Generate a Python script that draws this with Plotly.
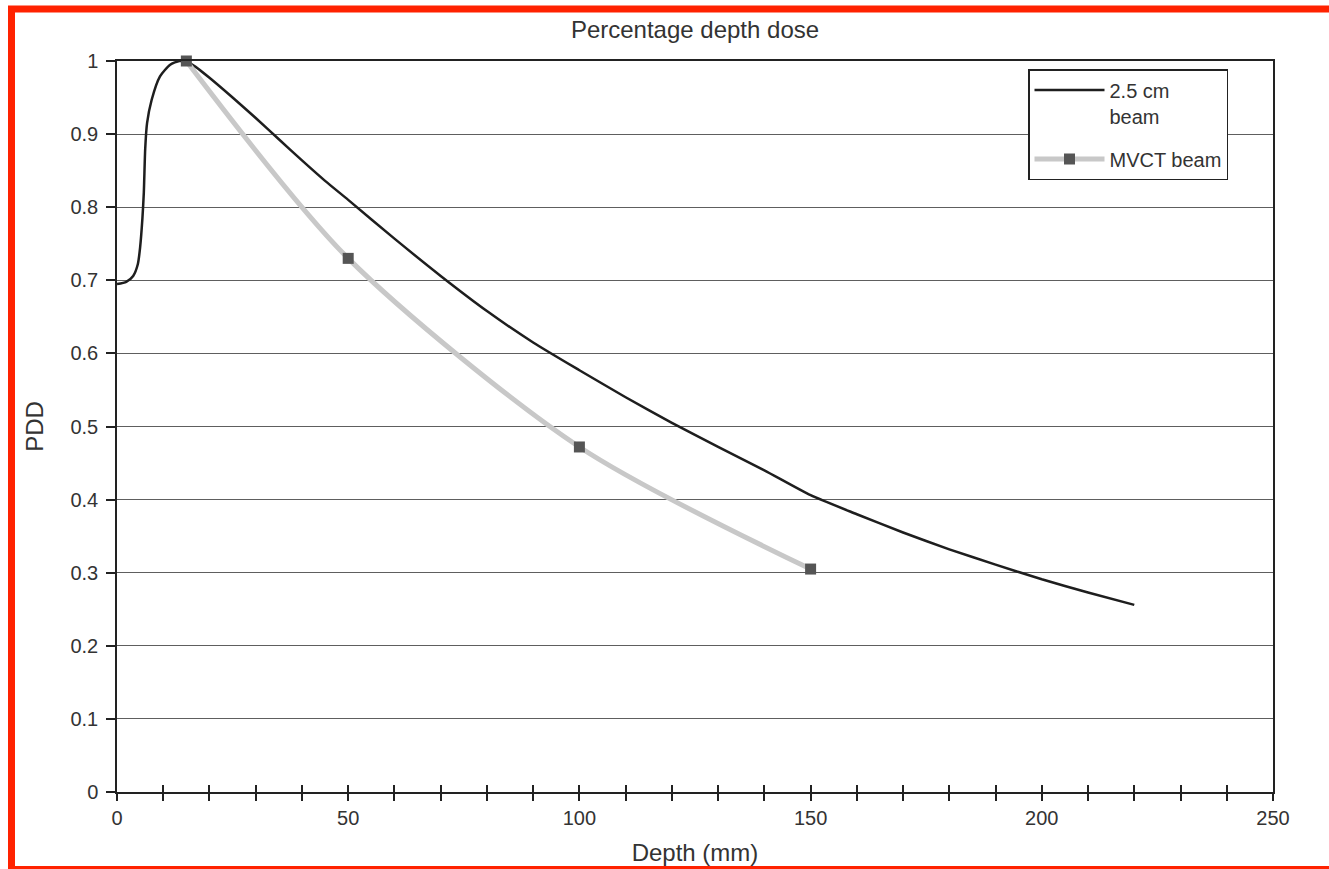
import plotly.graph_objects as go

# 2.5 cm beam (black curve)
depth_25 = [0, 2, 3.5, 4.5, 5, 5.5, 5.8, 6.1, 6.5, 7.5, 9.3, 11.5, 13.5, 15, 17, 20, 25, 30, 35, 40, 45, 50,
            60, 70, 80, 90, 100, 110, 120, 130, 140, 150, 160, 170, 180, 190, 200, 210, 220]
pdd_25 = [0.695, 0.698, 0.706, 0.722, 0.745, 0.785, 0.82, 0.88, 0.915, 0.947, 0.979, 0.995, 1.0, 0.999, 0.992,
          0.977, 0.95, 0.922, 0.893, 0.864, 0.836, 0.81, 0.757, 0.706, 0.658, 0.615, 0.577, 0.54, 0.505,
          0.472, 0.44, 0.406, 0.38, 0.355, 0.332, 0.311, 0.291, 0.273, 0.256]

# MVCT beam (gray curve with square markers)
depth_mvct = [15, 50, 100, 150]
pdd_mvct = [1.0, 0.73, 0.472, 0.305]

x_ticks = [0, 50, 100, 150, 200, 250]
y_ticks = [0, 0.1, 0.2, 0.3, 0.4, 0.5, 0.6, 0.7, 0.8, 0.9, 1]
y_ticktext = ["0", "0.1", "0.2", "0.3", "0.4", "0.5", "0.6", "0.7", "0.8", "0.9", "1"]

FONT = "Liberation Sans, Arial, sans-serif"

fig = go.Figure()
fig.add_trace(go.Scatter(
    x=depth_25, y=pdd_25, mode="lines", name="2.5 cm<br>beam", legendgroup="a",
    line=dict(color="#1e1e1e", width=2.5, shape="spline", smoothing=0.6),
    cliponaxis=False, xaxis="x", yaxis="y",
))
fig.add_trace(go.Scatter(
    x=depth_mvct, y=pdd_mvct, mode="lines+markers", name="MVCT beam", legendgroup="b",
    line=dict(color="#c8c8c8", width=5, shape="spline", smoothing=0.8),
    marker=dict(symbol="square", size=11, color="#555555"),
    cliponaxis=False, xaxis="x2", yaxis="y",
))

L, R, T, B = 117, 56, 61, 77
W, H = 1329, 869
pw, ph = W - L - R, H - T - B

def px_x(p):
    return (p - L) / pw

def px_y(p):
    return (H - B - p) / ph

fig.update_layout(
    width=W, height=H,
    margin=dict(l=L, r=R, t=T, b=B),
    paper_bgcolor="white", plot_bgcolor="white",
    font=dict(family=FONT, color="#333333", size=20),
    title=dict(text="Percentage depth dose", x=0.5, xref="paper", xanchor="center",
               y=1 - 30 / H, yanchor="middle", yref="container",
               font=dict(size=24, color="#333333")),
    showlegend=True,
    legend=dict(x=px_x(1028), y=px_y(69), xanchor="left", yanchor="top",
                bordercolor="#222222", borderwidth=1.5, bgcolor="white",
                font=dict(size=20, color="#333333"), entrywidth=160,
                itemwidth=70, tracegroupgap=14, valign="top"),
    xaxis=dict(range=[0, 250], tickvals=x_ticks, ticktext=[str(v) for v in x_ticks],
               ticks="outside", ticklen=7, tickwidth=1.5, tickcolor="#222222",
               minor=dict(dtick=10, tick0=0, ticks="outside", ticklen=7, tickwidth=1.5,
                          tickcolor="#222222", showgrid=False),
               showgrid=False, showline=True, linecolor="#222222", linewidth=1.5,
               mirror=True, zeroline=False, automargin=False,
               title=dict(text="Depth (mm)", standoff=16, font=dict(size=24)),
               tickfont=dict(size=20)),
    xaxis2=dict(range=[0, 250], overlaying="x", matches="x", anchor="y", side="bottom",
                showticklabels=False, ticks="inside", ticklen=7, tickwidth=1.5,
                tickcolor="#222222", dtick=10, tick0=0, showgrid=False, showline=False,
                zeroline=False, automargin=False),
    yaxis=dict(range=[0, 1], tickvals=y_ticks, ticktext=y_ticktext,
               ticks="outside", ticklen=9, tickwidth=1.5, tickcolor="#222222",
               ticklabelstandoff=4,
               showgrid=True, gridcolor="#5e5e5e", gridwidth=1.3,
               showline=True, linecolor="#222222", linewidth=1.5, mirror=True,
               zeroline=False, automargin=False,
               title=dict(text="PDD", standoff=20, font=dict(size=24)),
               tickfont=dict(size=20)),
    shapes=[dict(type="rect", xref="paper", yref="paper",
                 x0=px_x(11.5), x1=px_x(1340), y0=px_y(869.5), y1=px_y(9),
                 line=dict(color="#ff2200", width=7), fillcolor="rgba(0,0,0,0)",
                 layer="above")],
)

fig.write_html("out.html")
